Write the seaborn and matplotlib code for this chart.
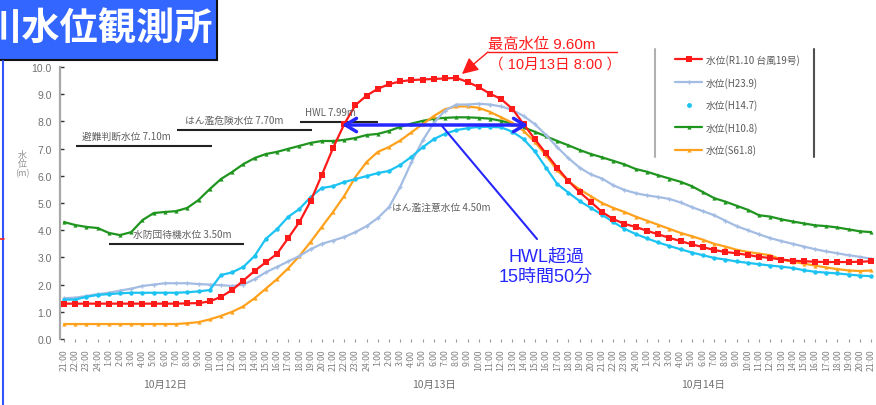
import numpy as np
import pandas as pd
import matplotlib
matplotlib.use("Agg")
import matplotlib.pyplot as plt
import matplotlib.transforms as mtransforms
from matplotlib.lines import Line2D
from matplotlib.patches import Rectangle
import seaborn as sns

W, H = 876, 406

# ---------------- data ----------------
hours = [21, 22, 23, 24] + list(range(1, 25)) + list(range(1, 25)) + list(range(1, 22))
hour_labels = [f"{h}:00" for h in hours]
day_labels = ["10月12日", "10月13日", "10月14日"]
day_label_pos = [9, 33, 57]

red_vals = [1.30, 1.30, 1.30, 1.30, 1.30, 1.30, 1.30, 1.30, 1.30, 1.30, 1.30, 1.31, 1.32,
            1.38, 1.55, 1.80, 2.15, 2.50, 2.82, 3.13, 3.71, 4.30, 5.07, 6.03, 7.02, 7.90,
            8.60, 8.95, 9.20, 9.37, 9.47, 9.52, 9.54, 9.56, 9.58, 9.60, 9.45, 9.26, 9.02,
            8.82, 8.46, 7.90, 7.35, 6.82, 6.30, 5.81, 5.40, 5.04, 4.67, 4.41, 4.23, 4.12,
            3.98, 3.85, 3.72, 3.60, 3.48, 3.38, 3.27, 3.20, 3.15, 3.09, 3.02, 2.98, 2.92,
            2.88, 2.86, 2.84, 2.83, 2.83, 2.83, 2.84, 2.86]
lblue_vals = [1.50, 1.52, 1.58, 1.65, 1.70, 1.78, 1.85, 1.95, 2.00, 2.05, 2.05, 2.05, 2.02,
              2.00, 1.98, 1.95, 2.00, 2.20, 2.45, 2.65, 2.85, 3.05, 3.30, 3.50, 3.62, 3.75,
              3.93, 4.15, 4.45, 4.85, 5.60, 6.50, 7.30, 7.95, 8.40, 8.62, 8.62, 8.65, 8.62,
              8.55, 8.42, 8.20, 7.90, 7.50, 7.05, 6.65, 6.30, 6.05, 5.90, 5.65, 5.48, 5.36,
              5.28, 5.22, 5.15, 5.02, 4.85, 4.70, 4.55, 4.35, 4.15, 4.00, 3.85, 3.71, 3.60,
              3.50, 3.40, 3.30, 3.22, 3.15, 3.08, 3.02, 2.95]
cyan_vals = [1.45, 1.45, 1.55, 1.62, 1.65, 1.68, 1.70, 1.70, 1.70, 1.70, 1.70, 1.72, 1.75,
             1.80, 2.35, 2.45, 2.65, 3.05, 3.68, 4.04, 4.49, 4.78, 5.22, 5.55, 5.62, 5.77,
             5.88, 5.99, 6.10, 6.18, 6.40, 6.70, 7.05, 7.35, 7.55, 7.68, 7.75, 7.80, 7.80,
             7.78, 7.62, 7.35, 6.90, 6.30, 5.70, 5.38, 5.07, 4.82, 4.57, 4.30, 4.05, 3.86,
             3.70, 3.55, 3.42, 3.30, 3.18, 3.08, 2.98, 2.92, 2.85, 2.80, 2.75, 2.70, 2.66,
             2.61, 2.53, 2.47, 2.44, 2.41, 2.37, 2.33, 2.31]
green_vals = [4.30, 4.19, 4.12, 4.08, 3.90, 3.82, 3.93, 4.37, 4.63, 4.67, 4.70, 4.82, 5.11,
              5.51, 5.88, 6.14, 6.43, 6.65, 6.80, 6.88, 6.99, 7.10, 7.21, 7.28, 7.28, 7.32,
              7.39, 7.50, 7.54, 7.65, 7.80, 7.92, 8.02, 8.10, 8.13, 8.15, 8.15, 8.13, 8.10,
              8.02, 7.92, 7.78, 7.62, 7.45, 7.28, 7.12, 6.95, 6.80, 6.68, 6.55, 6.42, 6.25,
              6.15, 6.02, 5.90, 5.78, 5.62, 5.40, 5.18, 5.05, 4.90, 4.75, 4.55, 4.50, 4.40,
              4.32, 4.25, 4.18, 4.15, 4.10, 4.03, 3.96, 3.93]
orange_vals = [0.55, 0.55, 0.55, 0.55, 0.55, 0.55, 0.55, 0.55, 0.55, 0.55, 0.55, 0.58, 0.62,
               0.72, 0.85, 1.00, 1.20, 1.50, 1.85, 2.20, 2.60, 3.05, 3.57, 4.12, 4.67, 5.26,
               5.96, 6.51, 6.88, 7.06, 7.30, 7.60, 7.90, 8.20, 8.45, 8.55, 8.55, 8.50, 8.35,
               8.15, 7.95, 7.65, 7.25, 6.75, 6.20, 5.80, 5.50, 5.25, 5.00, 4.82, 4.67, 4.50,
               4.35, 4.20, 4.05, 3.90, 3.78, 3.65, 3.50, 3.40, 3.28, 3.20, 3.14, 3.08, 2.92,
               2.84, 2.77, 2.70, 2.63, 2.57, 2.52, 2.50, 2.52]

series_names = ["水位(R1.10 台風19号)", "水位(H23.9)", "水位(H14.7)", "水位(H10.8)", "水位(S61.8)"]

ref_names = ["避難判断水位", "はん濫危険水位", "HWL", "水防団待機水位", "はん濫注意水位"]
ref_values = [7.10, 7.70, 7.99, 3.50, 4.50]

# ---------------- styling ----------------
c_red = "#FF1A1A"
c_lblue = "#A3BCE3"
c_cyan = "#1CC3F2"
c_green = "#1F951F"
c_orange = "#FFA11C"
c_blue = "#2626FF"
gray_txt = "#707070"

sns.set_theme(style="white")
plt.rcParams["font.family"] = ["Noto Sans CJK JP", "DejaVu Sans"]
LAT = ["Liberation Sans", "Noto Sans CJK JP"]

fig = plt.figure(figsize=(W / 100, H / 100), dpi=100)
ax = fig.add_axes([60 / W, 66 / H, (W - 60) / W, 272 / H])

idx = np.arange(len(red_vals))
df = pd.DataFrame({"idx": idx, "red": red_vals, "lblue": lblue_vals, "cyan": cyan_vals,
                   "green": green_vals, "orange": orange_vals})

sns.lineplot(data=df, x="idx", y="green", ax=ax, color=c_green, lw=1.6, marker="^",
             markersize=3, markeredgewidth=0, zorder=3)
sns.lineplot(data=df, x="idx", y="orange", ax=ax, color=c_orange, lw=1.6, marker="^",
             markersize=3, markeredgewidth=0, zorder=3)
sns.lineplot(data=df, x="idx", y="lblue", ax=ax, color=c_lblue, lw=1.6, marker="P",
             markersize=3, markeredgewidth=0, zorder=3)
sns.lineplot(data=df, x="idx", y="cyan", ax=ax, color=c_cyan, lw=1.6, marker="o",
             markersize=3.2, markeredgewidth=0, zorder=4)
sns.lineplot(data=df, x="idx", y="red", ax=ax, color=c_red, lw=1.6, marker="s",
             markersize=4.2, markeredgewidth=0, zorder=5)

ax.set_xlim(-0.357, 72.44)
ax.set_ylim(0, 10)
ax.set_xlabel("")
ax.set_ylabel("")
for s in ["top", "right", "bottom"]:
    ax.spines[s].set_visible(False)
ax.spines["left"].set_color("#A8A8A8")
ax.spines["left"].set_linewidth(1.6)

ax.set_yticks(np.arange(0, 11, 1))
ax.set_yticklabels([f"{v:.1f}" for v in np.arange(0, 11, 1)], fontsize=7.5, color=gray_txt,
                   family=LAT)
ax.tick_params(axis="y", direction="in", length=3, width=1, color="#333333", pad=6, left=True)
ax.set_xticks(idx)
ax.set_xticklabels(hour_labels, rotation=90, fontsize=6.3, color="#808080")
ax.tick_params(axis="x", direction="out", length=2, width=0.8, color="#999999", pad=5,
               bottom=True)

# day labels
tr = mtransforms.blended_transform_factory(ax.transData, fig.transFigure)
for lab, pos in zip(day_labels, day_label_pos):
    ax.text(pos, 1 - 385 / H, lab, transform=tr, ha="center", va="center", fontsize=7.5,
            color=gray_txt)

# y label
fig.text(22 / W, 1 - 165 / H, "水\n位\n(m)", ha="center", va="center", fontsize=6.5,
         color="#909090", linespacing=1.0)

# reference lines
ref_spans = [(1.07, 13.2), (10.1, 22.1), (21.05, 28.0), (4.0, 16.1), None]
ref_text_x = [1.6, 10.8, 21.5, 6.2, 29.3]
for name, val, span, tx in zip(ref_names, ref_values, ref_spans, ref_text_x):
    if span is not None:
        ax.hlines(val, span[0], span[1], color="#222222", lw=1.5, zorder=2)
    ax.text(tx, val + 0.36, f"{name} {val:.2f}m", fontsize=7, color="#606060",
            ha="left", va="center", zorder=6)

# legend
handles = [
    Line2D([], [], color=c_red, lw=1.6, marker="s", ms=4.2, mew=0),
    Line2D([], [], color=c_lblue, lw=1.6, marker="P", ms=3, mew=0),
    Line2D([], [], color=c_cyan, ls="none", marker="o", ms=3.5, mew=0),
    Line2D([], [], color=c_green, lw=1.6, marker="^", ms=3, mew=0),
    Line2D([], [], color=c_orange, lw=1.6, marker="^", ms=3, mew=0),
]
leg = ax.legend(handles, series_names, loc="upper left", bbox_to_anchor=(675 / W, 1 - 55 / H),
                bbox_transform=fig.transFigure, frameon=False, fontsize=7, handlelength=2.8,
                labelspacing=1.2, handletextpad=0.4, borderpad=0, borderaxespad=0)
for t in leg.get_texts():
    t.set_color("#5A5A5A")
fig.add_artist(Line2D([655 / W, 655 / W], [1 - 50 / H, 1 - 158 / H], color="#B0B0B0", lw=1.5))
fig.add_artist(Line2D([814 / W, 814 / W], [1 - 50 / H, 1 - 158 / H], color="#505050", lw=1.5))

# red peak annotation
fig.text(488 / W, 1 - 45 / H, "最高水位 9.60m", color=c_red, fontsize=11, ha="left",
         va="center", family=LAT)
fig.text(489 / W, 1 - 65 / H, "（ 10月13日 8:00 ）", color=c_red, fontsize=10.5, ha="left",
         va="center", family=LAT)
fig.add_artist(Line2D([488 / W, 617 / W], [1 - 53 / H, 1 - 53 / H], color=c_red, lw=1))
ax.annotate("", xy=(462, H - 75), xycoords="figure pixels", xytext=(488, H - 53),
            textcoords="figure pixels",
            arrowprops=dict(arrowstyle="-|>,head_length=0.7,head_width=0.35", color=c_red,
                            lw=1, mutation_scale=14, shrinkA=0, shrinkB=0))

# HWL exceed arrow
ax.annotate("", xy=(342, H - 126), xycoords="figure pixels", xytext=(528, H - 126),
            textcoords="figure pixels",
            arrowprops=dict(arrowstyle="<->,head_length=0.5,head_width=0.3", color=c_blue,
                            lw=2.5, mutation_scale=16, shrinkA=0, shrinkB=0), zorder=8)
fig.add_artist(Line2D([442 / W, 537 / W], [1 - 127 / H, 1 - 240 / H], color=c_blue, lw=1.5))
fig.text(546 / W, 1 - 257 / H, "HWL超過", color=c_blue, fontsize=13, ha="center",
         va="center", family=LAT)
fig.text(546 / W, 1 - 277 / H, "15時間50分", color=c_blue, fontsize=13, ha="center",
         va="center", family=LAT)

# title box (the slide crop cuts the first character at the left edge)
fig.add_artist(Rectangle((-5 / W, 1 - 61 / H), 222 / W, 70 / H, transform=fig.transFigure,
                         facecolor="#3366FF", edgecolor="#111111", lw=1.5))
fig.text(-17 / W, 1 - 29 / H, "川水位観測所", color="white", fontsize=27.5, fontweight="bold",
         ha="left", va="center")
fig.add_artist(Line2D([3 / W, 3 / W], [1 - 62 / H, 0], color="#3355FF", lw=1.5))
fig.add_artist(Line2D([0, 4 / W], [1 - 240 / H, 1 - 240 / H], color="#FF2020", lw=1.2))

fig.savefig("out.png", dpi=100)
